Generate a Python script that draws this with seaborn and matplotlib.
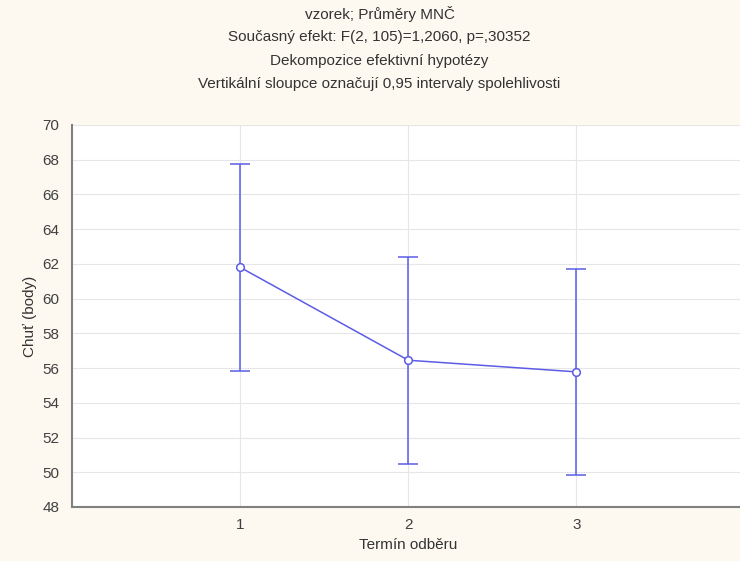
import numpy as np
import pandas as pd
import seaborn as sns
import matplotlib.pyplot as plt

# data
termin = [1, 2, 3]
means = [61.8, 56.45, 55.78]
ci_half = [5.95, 5.96, 5.95]
yticks = list(range(48, 71, 2))

title_lines = [
    "vzorek; Průměry MNČ",
    "Současný efekt: F(2, 105)=1,2060, p=,30352",
    "Dekompozice efektivní hypotézy",
    "Vertikální sloupce označují 0,95 intervaly spolehlivosti",
]

df = pd.DataFrame({"termin": termin, "chut": means, "ci": ci_half})

sns.set_style("white")
plt.rcParams["font.family"] = ["Liberation Sans", "DejaVu Sans"]

blue = "#5c5ce6"
fig = plt.figure(figsize=(7.4, 5.61), dpi=100, facecolor="#fdf9f1")
ax = fig.add_axes([0.0973, 0.0963, 0.909, 0.681])
ax.set_facecolor("white")

ax.errorbar(df["termin"], df["chut"], yerr=df["ci"], fmt="none",
            ecolor=blue, elinewidth=1.1, capsize=7, capthick=1.1, zorder=3)
sns.lineplot(data=df, x="termin", y="chut", ax=ax, color=blue, lw=1.1,
             marker="o", markersize=5.5, markerfacecolor="white",
             markeredgecolor=blue, markeredgewidth=1.1, zorder=4)

ax.set_xlim(0, 4)
ax.set_ylim(48, 70)
ax.set_xticks(termin)
ax.set_yticks(yticks)
ax.grid(True, color="#e6e6e6", lw=0.8)
ax.set_axisbelow(True)
for s in ["top", "right"]:
    ax.spines[s].set_visible(False)
for s in ["left", "bottom"]:
    ax.spines[s].set_color("#808080")
    ax.spines[s].set_linewidth(1.5)
ax.tick_params(axis="both", labelsize=11, colors="#404040", length=3,
               width=0.8, direction="out")
ax.tick_params(axis="y", pad=6)
ax.tick_params(axis="x", pad=5)

ax.set_xlabel("Termín odběru", fontsize=11, color="#333333", labelpad=4)
ax.set_ylabel("Chuť (body)", fontsize=11, color="#333333", labelpad=4)

for i, line in enumerate(title_lines):
    fig.text(0.513, 1 - (14 + i * 23.3) / 561, line, ha="center", va="center",
             fontsize=11, color="#333333")

fig.savefig("out.png", dpi=100, facecolor=fig.get_facecolor())
